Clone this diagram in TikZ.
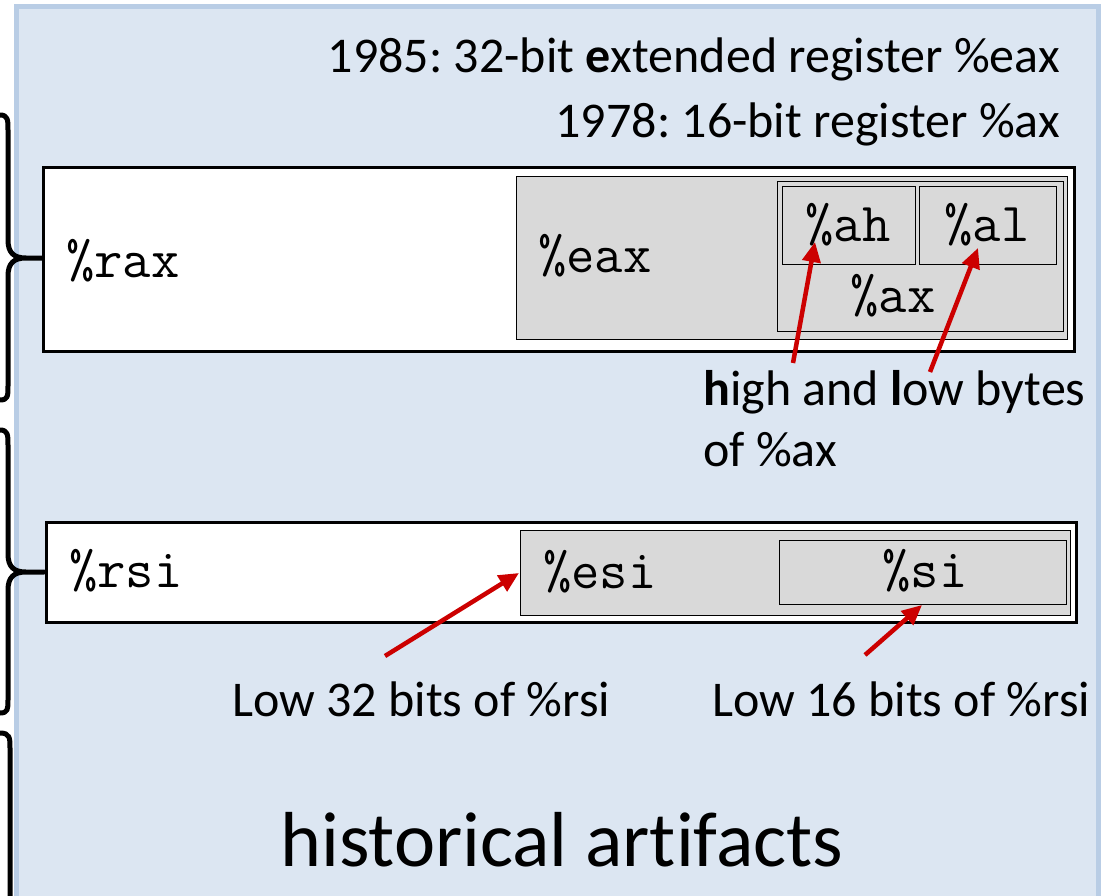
\documentclass[tikz,border=0pt]{standalone}
\usepackage{fontspec}
\setmainfont{Carlito}[Ligatures=NoCommon]
\frenchspacing
\usetikzlibrary{arrows.meta}
\definecolor{panelfill}{HTML}{DCE6F2}
\definecolor{panelline}{HTML}{B9CDE5}
\definecolor{regfill}{HTML}{D9D9D9}
\definecolor{arrowred}{HTML}{CC0000}
\newcommand{\regfont}{\fontsize{55}{60}\selectfont\ttfamily}
\newcommand{\labfont}{\fontsize{50}{60}\selectfont}
\newcommand{\bigfont}{\fontsize{78}{90}\selectfont}
\begin{document}
\begin{tikzpicture}[x=1pt,y=-1pt,
  outerbox/.style={draw=black, line width=3pt, fill=white, rectangle, anchor=north west, inner sep=0pt, outer sep=0pt},
  innerbox/.style={draw=black, line width=1.5pt, fill=regfill, rectangle, anchor=north west, inner sep=0pt, outer sep=0pt},
  regtext/.style={font=\regfont, inner sep=0pt},
  lab/.style={font=\labfont, inner sep=0pt},
  redarrow/.style={draw=arrowred, line width=4.5pt, -{Triangle[length=20pt,width=18pt]}},
  bracepath/.style={draw=black, line width=5pt, line cap=round, line join=round}]
\useasboundingbox (0,0) rectangle (1108,896);
% panel
\path[fill=panelfill, draw=panelline, line width=5pt] (16,7) rectangle (1098,930);
% braces
\draw[bracepath] (0,115) .. controls (8,115) and (8,120) .. (8,130) -- (8,240)
  .. controls (8,253) and (14,258) .. (26,258) -- (42,258)
  (26,258) .. controls (14,258) and (8,263) .. (8,276) -- (8,386)
  .. controls (8,396) and (8,400) .. (0,400);
\draw[bracepath] (0,430) .. controls (8,430) and (8,435) .. (8,445) -- (8,554)
  .. controls (8,567) and (14,572) .. (26,572) -- (44,572)
  (26,572) .. controls (14,572) and (8,577) .. (8,590) -- (8,700)
  .. controls (8,709) and (8,713) .. (0,713);
\draw[bracepath] (0,733) .. controls (10,733) and (10,738) .. (10,748) -- (10,900);
% rax
\node[outerbox, minimum width=1031pt, minimum height=184pt] (rax) at (43.5,167.5) {};
\node[innerbox, minimum width=551pt, minimum height=163pt] (eax) at (516.5,176.5) {};
\node[innerbox, minimum width=286pt, minimum height=150pt] (ax) at (777.5,181.5) {};
\node[innerbox, minimum width=133pt, minimum height=78pt] (ah) at (782.5,186.5) {};
\node[innerbox, minimum width=137pt, minimum height=78pt] (al) at (919.5,186.5) {};
\node[regtext, anchor=base west] (raxt) at (66,277) {\%rax};
\node[regtext, anchor=base west] (eaxt) at (538,272) {\%eax};
\node[regtext, anchor=base] (aht) at (848,241) {\%ah};
\node[regtext, anchor=base] (alt) at (987,241) {\%al};
\node[regtext, anchor=base] (axt) at (893,312) {\%ax};
% rsi
\node[outerbox, minimum width=1030pt, minimum height=100pt] (rsi) at (46.5,522.5) {};
\node[innerbox, minimum width=550pt, minimum height=85pt] (esi) at (520.5,530.5) {};
\node[innerbox, minimum width=287pt, minimum height=64pt] (si) at (779.5,540.5) {};
\node[regtext, anchor=base west] (rsit) at (69,587) {\%rsi};
\node[regtext, anchor=base west] (esit) at (543,588) {\%esi};
\node[regtext, anchor=base] (sit) at (925,587) {\%si};
% labels
\node[lab, anchor=base east] (l1985) at (1060,73) {1985: 32-bit \textbf{e}xtended register \%eax};
\node[lab, anchor=base east] (l1978) at (1060,138) {1978: 16-bit register \%ax};
\node[lab, anchor=base west] (lhigh) at (703,405) {\textbf{h}igh and \textbf{l}ow bytes};
\node[lab, anchor=base west] (lof) at (703,466) {of \%ax};
\node[lab, anchor=base west] (l32) at (232,716) {Low 32 bits of \%rsi};
\node[lab, anchor=base west] (l16) at (712,716) {Low 16 bits of \%rsi};
\node[font=\bigfont, inner sep=0pt, anchor=base west] (hist) at (280,866) {historical art\kern0pt ifacts};
% arrows
\coordinate (ahtail) at (793,363);
\coordinate (ahtip) at (815,242);
\coordinate (altail) at (930,372);
\coordinate (altip) at (978,248);
\coordinate (esitail) at (385,656);
\coordinate (esitip) at (519,573);
\coordinate (sitail) at (865,655);
\coordinate (sitip) at (922,605);
\draw[redarrow] (ahtail) -- (ahtip);
\draw[redarrow] (altail) -- (altip);
\draw[redarrow] (esitail) -- (esitip);
\draw[redarrow] (sitail) -- (sitip);
\end{tikzpicture}
\end{document}
